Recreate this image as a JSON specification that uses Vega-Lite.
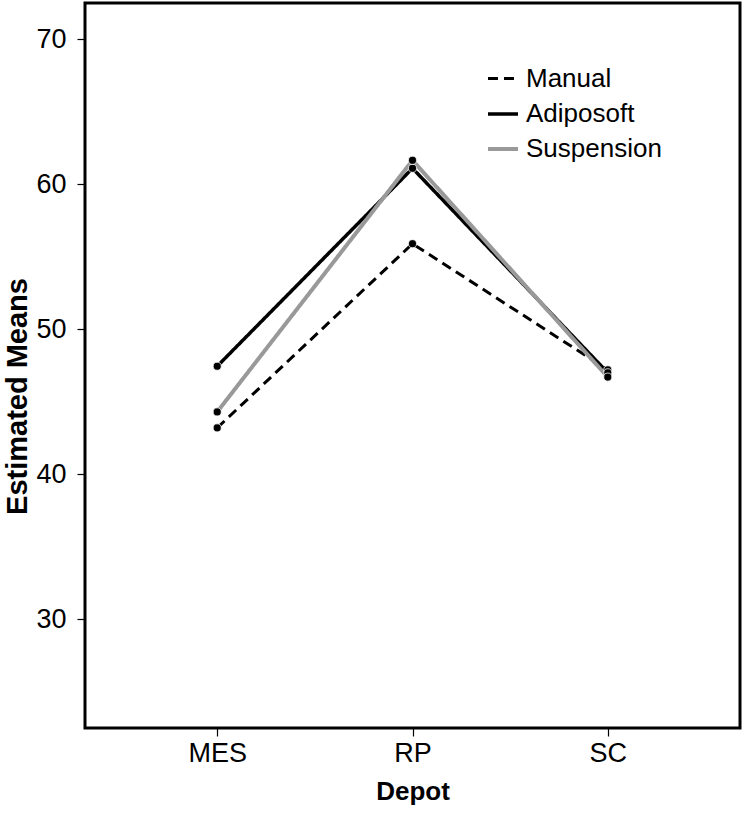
{
  "$schema": "https://vega.github.io/schema/vega-lite/v6.json",
  "autosize": "none",
  "width": 655,
  "height": 725,
  "padding": {"left": 85, "top": 3, "right": 7, "bottom": 85},
  "background": "white",
  "config": {
    "font": "Liberation Sans",
    "view": {"stroke": "black", "strokeWidth": 3},
    "axis": {
      "grid": false, "domain": false, "tickColor": "black", "tickSize": 8, "tickWidth": 1.2,
      "labelFontSize": 27, "labelColor": "black", "titleFontSize": 26, "titleFontWeight": "bold", "titleColor": "black"
    }
  },
  "data": {
    "values": [
      {"method": "Manual", "depot": "MES", "mean": 43.2},
      {"method": "Manual", "depot": "RP", "mean": 55.9},
      {"method": "Manual", "depot": "SC", "mean": 47.2},
      {"method": "Adiposoft", "depot": "MES", "mean": 47.45},
      {"method": "Adiposoft", "depot": "RP", "mean": 61.1},
      {"method": "Adiposoft", "depot": "SC", "mean": 47.0},
      {"method": "Suspension", "depot": "MES", "mean": 44.3},
      {"method": "Suspension", "depot": "RP", "mean": 61.65},
      {"method": "Suspension", "depot": "SC", "mean": 46.7}
    ]
  },
  "encoding": {
    "x": {"field": "depot", "type": "ordinal", "scale": {"type": "point", "padding": 0.677},
      "axis": {"labelAngle": 0, "labelPadding": 4, "title": "Depot", "titlePadding": 12}},
    "y": {"field": "mean", "type": "quantitative", "scale": {"domain": [22.5, 72.5], "nice": false, "zero": false},
      "axis": {"values": [30, 40, 50, 60, 70], "labelPadding": 11, "title": "Estimated Means", "titleFontSize": 29, "titlePadding": 3, "titleY": 393}}
  },
  "layer": [
    {
      "mark": {"type": "line"},
      "encoding": {
        "color": {"field": "method", "type": "nominal",
          "scale": {"domain": ["Manual", "Adiposoft", "Suspension"], "range": ["black", "black", "#999999"]},
          "legend": {"title": null, "orient": "none", "legendX": 401, "legendY": 59, "symbolType": "stroke",
            "symbolSize": 900, "labelFontSize": 26, "labelColor": "black", "rowPadding": 5, "labelOffset": 6}},
        "strokeDash": {"field": "method", "type": "nominal",
          "scale": {"domain": ["Manual", "Adiposoft", "Suspension"], "range": [[10, 6], [1, 0], [1, 0]]}},
        "strokeWidth": {"field": "method", "type": "nominal",
          "scale": {"domain": ["Manual", "Adiposoft", "Suspension"], "range": [3, 4, 6]}}
      }
    },
    {
      "mark": {"type": "point", "filled": true, "color": "black", "size": 65, "stroke": "white", "strokeWidth": 0.8, "opacity": 1},
      "encoding": {"detail": {"field": "method"}}
    }
  ]
}
